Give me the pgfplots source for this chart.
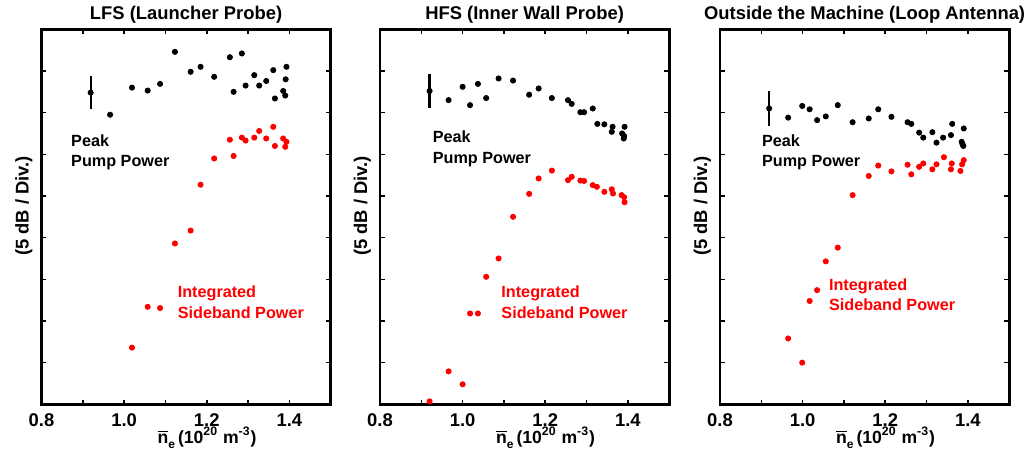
\documentclass[border=0pt]{standalone}
\usepackage{fontspec}
\setmainfont{Liberation Sans}
\usepackage{pgfplots}
\pgfplotsset{compat=1.18}
\usepackage{pgfplotstable}

% ---------- data (x = n_e, y = divisions of 5 dB) ----------
\pgfplotstableread{
x y
0.966 6.95
1.019 7.60
1.057 7.53
1.087 7.69
1.123 8.46
1.161 7.98
1.185 8.10
1.218 7.86
1.256 8.33
1.265 7.50
1.285 8.42
1.294 7.65
1.315 7.90
1.327 7.65
1.344 7.76
1.361 8.02
1.365 7.34
1.385 7.52
1.390 7.41
1.391 7.80
1.393 8.10
}\lfsblack
\pgfplotstableread{
x y
1.019 1.36
1.057 2.34
1.087 2.31
1.123 3.86
1.161 4.17
1.185 5.27
1.218 5.90
1.256 6.35
1.265 5.96
1.285 6.40
1.294 6.33
1.315 6.40
1.327 6.56
1.344 6.38
1.361 6.66
1.365 6.20
1.385 6.38
1.390 6.18
1.393 6.30
}\lfsred
\pgfplotstableread{
x y
0.966 7.30
1.000 7.62
1.018 7.18
1.037 7.69
1.057 7.35
1.087 7.82
1.122 7.77
1.161 7.43
1.184 7.58
1.216 7.35
1.255 7.30
1.264 7.21
1.285 7.01
1.294 7.01
1.315 7.10
1.326 6.73
1.343 6.72
1.361 6.54
1.363 6.66
1.386 6.50
1.390 6.38
1.391 6.44
1.392 6.66
}\hfsblack
\pgfplotstableread{
x y
0.920 0.07
0.966 0.79
1.000 0.48
1.018 2.18
1.037 2.18
1.057 3.06
1.087 3.50
1.122 4.50
1.161 5.05
1.184 5.42
1.216 5.61
1.255 5.38
1.264 5.46
1.285 5.37
1.294 5.36
1.315 5.26
1.325 5.22
1.343 5.10
1.361 5.16
1.364 5.06
1.385 5.02
1.391 4.97
1.392 4.85
}\hfsred
\pgfplotstableread{
x y
0.965 6.88
0.999 7.16
1.017 7.08
1.035 6.82
1.056 6.91
1.085 7.18
1.121 6.77
1.160 6.86
1.183 7.08
1.215 6.90
1.254 6.77
1.263 6.73
1.282 6.52
1.292 6.40
1.314 6.53
1.324 6.28
1.340 6.40
1.359 6.46
1.362 6.73
1.385 6.30
1.387 6.24
1.389 6.20
1.390 6.62
}\loopblack
\pgfplotstableread{
x y
0.965 1.58
0.999 1.00
1.017 2.48
1.035 2.74
1.056 3.43
1.085 3.76
1.121 5.02
1.160 5.48
1.183 5.73
1.215 5.59
1.254 5.75
1.263 5.52
1.282 5.70
1.292 5.78
1.314 5.64
1.324 5.76
1.342 5.93
1.359 5.64
1.361 5.78
1.382 5.60
1.386 5.76
1.390 5.86
}\loopred

\newcommand{\tfont}{\fontsize{9.2pt}{11pt}\selectfont\bfseries}
\newcommand{\afont}{\fontsize{8.1pt}{10pt}\selectfont\bfseries}
\newcommand{\xlab}{\fontsize{8.8pt}{10pt}\selectfont\bfseries$\overline{\mbox{n}}$\raisebox{-0.55ex}{\fontsize{6pt}{7pt}\selectfont e}\,(10\textsuperscript{20} m\textsuperscript{-3})}

\tikzset{ann/.style={anchor=base west, inner sep=0pt, font=\afont}}

\pgfplotsset{
  panel/.style={
    scale only axis, width=144.6pt, height=187.5pt, anchor=south west,
    xmin=0.8, xmax=1.5, ymin=0, ymax=9,
    xtick={0.8,1.0,1.2,1.4}, xticklabels={0.8,1.0,1.2,1.4},
    minor xtick={0.9,1.1,1.3},
    ytick={1,2,3,4,5,6,7,8}, yticklabels={},
    tick pos=both, ticklabel pos=left,
    tick align=inside, major tick length=2.4pt, minor tick length=2.4pt,
    axis line style={line width=1.35pt},
    every tick/.style={line width=0.8pt, black},
    every tick label/.append style={font=\tfont},
    xticklabel style={anchor=base, yshift=-10.85pt},
    every axis title/.style={at={(0.5,1)}, anchor=base, yshift=5.15pt, font=\tfont},
    clip=false,
  },
  blk/.style={only marks, mark=*, mark size=1.3pt, black, mark options={draw=none, fill=black}},
  rd/.style={only marks, mark=*, mark size=1.3pt, red, mark options={draw=none, fill=red}},
  eb/.style={only marks, mark=*, mark size=1.3pt, black, mark options={draw=none, fill=black},
    error bars/.cd, y dir=both, y explicit, error mark=none,
    error bar style={line width=1.1pt, black}},
}

\begin{document}
\begin{tikzpicture}
\useasboundingbox (0,0) rectangle (515.5pt,230pt);

% ---------- Panel 1 ----------
\begin{axis}[panel, at={(20.75pt,27.85pt)}, title={LFS (Launcher Probe)}]
\addplot[blk] table {\lfsblack};
\addplot[rd] table {\lfsred};
\addplot[eb] coordinates {(0.919,7.48) +- (0,0.40)};
\node[ann] at (axis cs:0.871,6.18) {Peak};
\node[ann] at (axis cs:0.871,5.70) {Pump Power};
\node[ann, red] at (axis cs:1.129,2.56) {Integrated};
\node[ann, red] at (axis cs:1.129,2.06) {Sideband Power};
\node[rotate=90, anchor=base, font=\tfont] at ([xshift=-6.5pt]rel axis cs:0,0.529) {(5 dB / Div.)};
\node[anchor=base] at ([xshift=10.5pt,yshift=-19.6pt]rel axis cs:0.5,0) {\xlab};
\end{axis}

% ---------- Panel 2 ----------
\begin{axis}[panel, at={(190pt,27.85pt)}, title={HFS (Inner Wall Probe)}]
\addplot[blk] table {\hfsblack};
\addplot[rd] table {\hfsred};
\addplot[eb] coordinates {(0.920,7.52) +- (0,0.41)};
\node[ann] at (axis cs:0.927,6.28) {Peak};
\node[ann] at (axis cs:0.927,5.78) {Pump Power};
\node[ann, red] at (axis cs:1.093,2.56) {Integrated};
\node[ann, red] at (axis cs:1.093,2.06) {Sideband Power};
\node[rotate=90, anchor=base, font=\tfont] at ([xshift=-6.5pt]rel axis cs:0,0.529) {(5 dB / Div.)};
\node[anchor=base] at ([xshift=10.5pt,yshift=-19.6pt]rel axis cs:0.5,0) {\xlab};
\end{axis}

% ---------- Panel 3 ----------
\begin{axis}[panel, at={(360pt,27.85pt)}, title={Outside the Machine (Loop Antenna)}]
\addplot[blk] table {\loopblack};
\addplot[rd] table {\loopred};
\addplot[eb] coordinates {(0.919,7.10) +- (0,0.42)};
\node[ann] at (axis cs:0.901,6.18) {Peak};
\node[ann] at (axis cs:0.901,5.70) {Pump Power};
\node[ann, red] at (axis cs:1.063,2.72) {Integrated};
\node[ann, red] at (axis cs:1.063,2.24) {Sideband Power};
\node[rotate=90, anchor=base, font=\tfont] at ([xshift=-6.5pt]rel axis cs:0,0.529) {(5 dB / Div.)};
\node[anchor=base] at ([xshift=10.5pt,yshift=-19.6pt]rel axis cs:0.5,0) {\xlab};
\end{axis}
\end{tikzpicture}
\end{document}
